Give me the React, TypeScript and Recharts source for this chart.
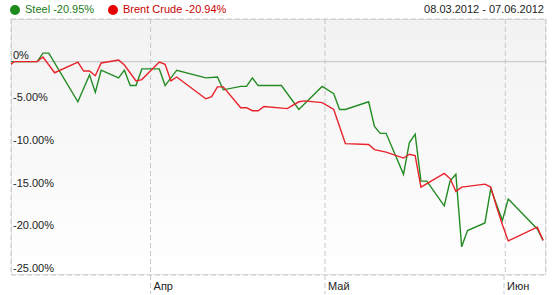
import React from "react";
import { LineChart, Line, XAxis, YAxis, CartesianGrid, ReferenceLine, ReferenceArea } from "recharts";

// dates are trading days, values are % change since the start of the period
const steelDates = [
	"03-07", "03-08", "03-12", "03-13", "03-14", "03-19", "03-21", "03-22", "03-23", "03-26",
	"03-27", "03-28", "03-29", "03-30", "04-02", "04-03", "04-05", "04-10", "04-12", "04-13",
	"04-16", "04-17", "04-18", "04-19", "04-23", "04-26", "04-30", "05-02", "05-03", "05-04",
	"05-08", "05-09", "05-10", "05-11", "05-14", "05-15", "05-16", "05-17", "05-18", "05-21",
	"05-22", "05-23", "05-24", "05-25", "05-28", "05-29", "05-31", "06-01", "06-06", "06-07",
];
const steelValues = [
	0, 0, 0, 1.0, 1.0, -4.7, -1.55, -3.6, -1.0, -1.9,
	-1.0, -2.8, -2.8, -0.85, -0.85, -2.8, -1.0, -1.9, -1.8, -3.3,
	-2.9, -2.9, -1.9, -2.8, -2.8, -5.6, -2.9, -3.75, -5.6, -5.6,
	-4.7, -7.6, -8.4, -8.4, -13.2, -9.5, -8.5, -14.0, -14.0, -16.9,
	-14.0, -13.2, -21.7, -19.8, -18.9, -14.9, -18.6, -16.1, -19.6, -20.95,
];

const brentDates = [
	"03-07", "03-08", "03-09", "03-12", "03-13", "03-15", "03-19", "03-20", "03-21", "03-22",
	"03-23", "03-26", "03-27", "03-29", "03-30", "04-02", "04-03", "04-04", "04-05", "04-10",
	"04-11", "04-12", "04-13", "04-16", "04-17", "04-18", "04-19", "04-20", "04-24", "04-26",
	"04-27", "04-30", "05-02", "05-04", "05-08", "05-09", "05-11", "05-14", "05-15", "05-16",
	"05-17", "05-21", "05-22", "05-23", "05-24", "05-28", "05-29", "05-30", "05-31", "06-01",
	"06-06", "06-07",
];
const brentValues = [
	-0.6, 0, 0, 0, 0.55, -1.3, -0.05, -1.1, -1.1, -1.65,
	-0.15, 0.2, -0.4, -2.25, -2.1, -0.05, -0.3, -2.25, -1.8, -4.35,
	-4.1, -2.95, -2.95, -5.4, -5.4, -5.75, -5.75, -5.25, -5.5, -4.7,
	-4.6, -4.8, -5.6, -9.6, -9.7, -10.3, -10.6, -11.3, -10.85, -11.0,
	-14.7, -13.1, -13.7, -15.2, -14.7, -14.35, -14.7, -17.0, -19.1, -21.0,
	-19.4, -20.94,
];

const yTicks = [-25, -20, -15, -10, -5, 0];
const monthTicks = ["04-01", "05-01", "06-01"];
const monthLabels = ["Апр", "Май", "Июн"];

const toTime = (md: string, hour = 0) => {
	const [m, d] = md.split("-").map(Number);
	return Date.UTC(2012, m - 1, d, hour);
};

const steel = steelDates.map((d, i) => ({ t: toTime(d, 12), v: steelValues[i] }));
const brent = brentDates.map((d, i) => ({ t: toTime(d, 12), v: brentValues[i] }));
const xDomain = [toTime("03-08"), toTime("06-08")];
const xTicks = monthTicks.map((d) => toTime(d));

const FONT = "'Liberation Sans', Arial, sans-serif";

const MonthTick = (props: any) => {
	const { x, index } = props;
	return (
		<g>
			<line x1={x} x2={x} y1={275} y2={294} stroke="#c8c8c8" strokeDasharray="5 3" />
			<text x={x + 3} y={290} fontSize={11} fontFamily={FONT} fill="#222">
				{monthLabels[index]}
			</text>
		</g>
	);
};

const pct = (v: number) => (v === 0 ? "0%" : v.toFixed(2) + "%");

const App = () => {
	return (
		<div style={{ position: "absolute", left: 0, top: 0, width: 556, height: 295, background: "#fff" }}>
			<div style={{ position: "absolute", left: 0, top: 0, width: 556, height: 19, fontFamily: FONT, fontSize: 11 }}>
				<span style={{ position: "absolute", left: 10, top: 5, width: 10, height: 10, borderRadius: 5, background: "#1d8a1d" }} />
				<span style={{ position: "absolute", left: 25, top: 3, color: "#1b7a1b" }}>Steel -20.95%</span>
				<span style={{ position: "absolute", left: 108, top: 5, width: 10, height: 10, borderRadius: 5, background: "#e60000" }} />
				<span style={{ position: "absolute", left: 123, top: 3, color: "#c80000" }}>Brent Crude -20.94%</span>
				<span style={{ position: "absolute", right: 12, top: 3, color: "#222" }}>08.03.2012 - 07.06.2012</span>
			</div>
			<LineChart width={556} height={295} margin={{ top: 19, right: 10, bottom: 0, left: 11 }}>
				<defs>
					<linearGradient id="plotBg" x1="0" y1="0" x2="0" y2="1">
						<stop offset="0%" stopColor="#f2f2f2" />
						<stop offset="100%" stopColor="#ffffff" />
					</linearGradient>
				</defs>
				<CartesianGrid fill="url(#plotBg)" stroke="#c8c8c8" strokeDasharray="5 3" />
				<XAxis
					dataKey="t"
					type="number"
					domain={xDomain}
					allowDataOverflow
					ticks={xTicks}
					tick={<MonthTick />}
					axisLine={false}
					tickLine={false}
					height={20}
				/>
				<YAxis
					dataKey="v"
					type="number"
					domain={[-25, 5]}
					ticks={yTicks}
					tick={false}
					axisLine={false}
					tickLine={false}
					width={0}
				/>
				{yTicks.map((v) => (
					<ReferenceLine
						key={v}
						y={v}
						stroke={v === 0 ? "#c0c0c0" : "none"}
						label={(p: any) => (
							<text x={p.viewBox.x + 2} y={p.viewBox.y - 3} fontSize={11} fontFamily={FONT} fill="#222">
								{pct(v)}
							</text>
						)}
					/>
				))}
				<ReferenceArea x1={xDomain[0]} x2={xDomain[1]} y1={-25} y2={5} fill="none" stroke="#c8c8c8" ifOverflow="hidden" />
				<Line data={steel} dataKey="v" stroke="#238b23" strokeWidth={1.4} dot={false} isAnimationActive={false} />
				<Line data={brent} dataKey="v" stroke="#e8232b" strokeWidth={1.4} dot={false} isAnimationActive={false} />
			</LineChart>
		</div>
	);
};

export default App;
